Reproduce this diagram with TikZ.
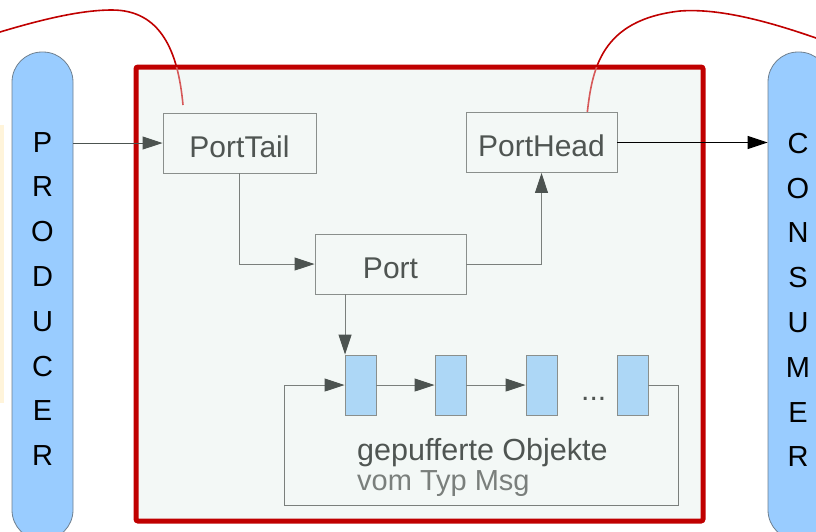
\documentclass[tikz,border=0pt]{standalone}
\usepackage{fontspec}
\setmainfont{Liberation Sans}
\usetikzlibrary{arrows.meta}
\definecolor{pillfill}{HTML}{99CCFF}
\definecolor{pillline}{HTML}{6E7F8E}
\definecolor{framered}{HTML}{C00000}
\definecolor{panel}{HTML}{F3F8F6}
\definecolor{boxline}{HTML}{8A8F8C}
\definecolor{txt}{HTML}{4F5552}
\definecolor{txtlight}{HTML}{7A7F7C}
\definecolor{cellfill}{HTML}{ADD7F6}
\definecolor{beige}{HTML}{FFF4DA}
\definecolor{tipgray}{HTML}{4C5350}
\tikzset{
  pill/.style={draw=pillline, fill=pillfill, line width=0.8pt, rounded corners=30pt,
    minimum width=61pt, minimum height=488pt, inner sep=0pt},
  letters/.style={align=center, text=black, font=\fontsize{29}{44.8}\selectfont},
  portbox/.style={draw=boxline, fill=panel, line width=0.9pt, inner sep=0pt,
    minimum height=60pt, text=txt, text height=28pt, text depth=0pt,
    font=\fontsize{30}{34}\selectfont},
  cellbox/.style={draw=boxline, fill=cellfill, line width=0.9pt, inner sep=0pt,
    minimum width=31pt, minimum height=60pt},
  conn/.style={draw=txtlight, line width=1pt,
    -{Triangle[length=20pt,width=13pt,fill=tipgray,color=tipgray]}},
  link/.style={draw=framered, line width=1.6pt},
  label/.style={inner sep=0pt, anchor=base west}
}
\begin{document}
\begin{tikzpicture}[x=1pt, y=-1pt]
  \useasboundingbox (0,0) rectangle (816,531);

  % faint strip at the left edge
  \fill[beige] (0,125) rectangle (4,403);

  % producer and consumer pills
  \node[pill] (producer) at (42.5,296) {};
  \node[letters] (prodtext) at (42.5,299) {P\\R\\O\\D\\U\\C\\E\\R};
  \node[pill] (consumer) at (798.5,296) {};
  \node[letters] (constext) at (798,300) {C\\O\\N\\S\\U\\M\\E\\R};

  % red links leading out of the picture
  \coordinate (linkL) at (0,32);
  \coordinate (linkLend) at (183,105);
  \coordinate (linkR) at (816,38);
  \coordinate (linkRend) at (587,115);
  \def\linkpaths{%
    \draw[link] (linkL) .. controls (40,20) and (80,10) .. (112,10)
                        .. controls (160,10) and (178,50) .. (linkLend);
    \draw[link] (linkRend) .. controls (592,70) and (600,20) .. (680,11)
                           .. controls (720,8) and (770,22) .. (linkR);}
  \linkpaths

  % port module frame
  \node[draw=framered, line width=5pt, fill=panel,
        rounded corners=2pt, minimum width=567pt, minimum height=454pt,
        inner sep=0pt] (module) at (419.5,294) {};

  % the links show paler inside the module
  \begin{scope}
    \clip ([shift={(2.5pt,-2.5pt)}]module.north west) rectangle ([shift={(-2.5pt,2.5pt)}]module.south east);
    \tikzset{link/.append style={draw=framered!65}}
    \linkpaths
  \end{scope}

  % ports
  \node[portbox, minimum width=153pt] (porttail) at (239.5,143) {PortTail};
  \node[portbox, minimum width=151pt] (porthead) at (541.5,142.5) {PortHead};
  \node[portbox, minimum width=151pt] (port) at (390.5,264) {Port};

  % buffered message cells
  \node[cellbox] (c1) at (360.5,385) {};
  \node[cellbox] (c2) at (450.5,385) {};
  \node[cellbox] (c3) at (541.5,385) {};
  \node[cellbox] (c4) at (632.5,385) {};
  \node[label, text=txt, font=\fontsize{30}{34}\selectfont] (dots) at (581,400) {...};

  \node[label, text=txt, font=\fontsize{30.5}{34}\selectfont] (buftext) at (357,460) {gepufferte Objekte};
  \node[label, text=txtlight, font=\fontsize{29}{34}\selectfont] (typtext) at (357,490) {vom Typ Msg};

  % connectors
  \draw[conn, draw=tipgray] (producer.east |- porttail.west) -- (porttail.west);
  \draw[conn, draw=black, -{Triangle[length=20pt,width=13pt,fill=black,color=black]}]
       (porthead.east) -- (porthead.east -| consumer.west);
  \draw[conn] (porttail.south) |- (port.west);
  \draw[conn] (port.east) -| (porthead.south);
  \draw[conn] ([xshift=0.5pt]c1.north west |- port.south) -- ([xshift=0.5pt]c1.north west);
  \draw[conn] (c1.east) -- (c2.west);
  \draw[conn] (c2.east) -- (c3.west);
  \coordinate (loopR) at (678,505);
  \coordinate (loopL) at (284,505);
  \draw[conn] (c4.east) -| (loopR) -- (loopL) |- (c1.west);
\end{tikzpicture}
\end{document}
